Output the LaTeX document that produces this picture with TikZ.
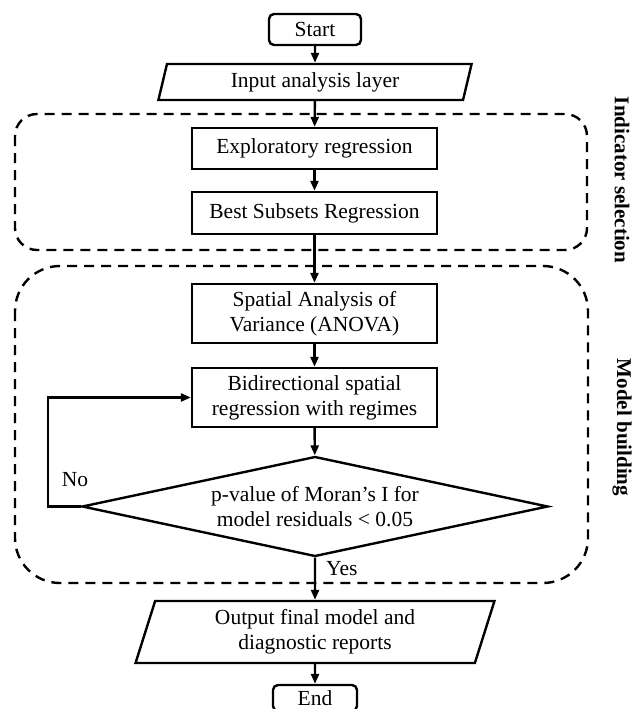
\documentclass[tikz,border=0pt]{standalone}
\usepackage{fontspec}
\setmainfont{Liberation Serif}
\usetikzlibrary{arrows.meta,shapes.geometric}

\begin{document}
\begin{tikzpicture}[x=1pt,y=1pt,line width=2.4pt,>={Triangle[length=10pt,width=8pt]}]
	\tikzstyle{every node}+=[inner sep=0pt,font=\fontsize{21.5}{25}\selectfont,align=center]
	\tikzstyle{termbox}=[draw,rounded corners=5pt,minimum width=88pt,minimum height=31pt]
	\tikzstyle{procbox}=[draw,minimum width=245pt]
	\tikzstyle{iobox}=[draw,trapezium,trapezium stretches=true]
	\tikzstyle{decbox}=[draw,diamond,aspect=4.66,minimum width=466pt,minimum height=100pt]
	\tikzstyle{groupline}=[line width=2.4pt,dash pattern=on 10pt off 7pt]
	\tikzstyle{sidelabel}=[rotate=-90,font=\fontsize{21}{25}\selectfont\bfseries]
	\useasboundingbox (0,0) rectangle (635,-709);
	% dashed groups
	\draw [groupline,rounded corners=22pt] (15,-114) rectangle (587,-250);
	\draw [groupline,rounded corners=45pt] (15,-266) rectangle (588,-583);
	\node [sidelabel] (sellbl) at (622,-180) {Indicator selection};
	\node [sidelabel] (modlbl) at (622,-427.5) {Model building};
	% flow
	\node [termbox,minimum width=92pt] (start) at (315,-29.5) {Start};
	\node [iobox,trapezium left angle=76,trapezium right angle=104,minimum width=314pt,minimum height=36pt] (input) at (315,-82) {Input analysis layer};
	\node [procbox,minimum height=41pt] (explor) at (314.5,-148.5) {Exploratory regression};
	\node [procbox,minimum height=42pt] (best) at (314.5,-213) {Best Subsets Regression};
	\node [procbox,minimum height=59pt] (anova) at (314.5,-313.5) {Spatial Analysis of\\Variance (ANOVA)};
	\node [procbox,minimum height=59pt] (bidir) at (314.5,-397.5) {Bidirectional spatial\\regression with regimes};
	\node [decbox] (check) at (315,-506.5) {p-value of Moran’s I for\\model residuals < 0.05};
	\node [iobox,trapezium left angle=74.7,trapezium right angle=105.3,minimum width=360pt,minimum height=62pt] (output) at (315,-632) {Output final model and\\diagnostic reports};
	\node [termbox,minimum width=84pt,minimum height=26pt] (end) at (315,-698) {End};
	\node (nolbl) at (75,-480) {No};
	\node [anchor=west] (yeslbl) at (325,-569) {Yes};
	% connectors
	\draw [->] (start) -- (input);
	\draw [->] (input) -- (explor);
	\draw [->] (explor) -- (best);
	\draw [->] (best) -- (anova);
	\draw [->] (anova) -- (bidir);
	\draw [->] (bidir) -- (check);
	\draw [->] (check) -- (output);
	\draw [->] (output) -- (end);
	\draw [->] (check.west) -- ++(-33,0) |- (bidir.west);
\end{tikzpicture}
\end{document}
